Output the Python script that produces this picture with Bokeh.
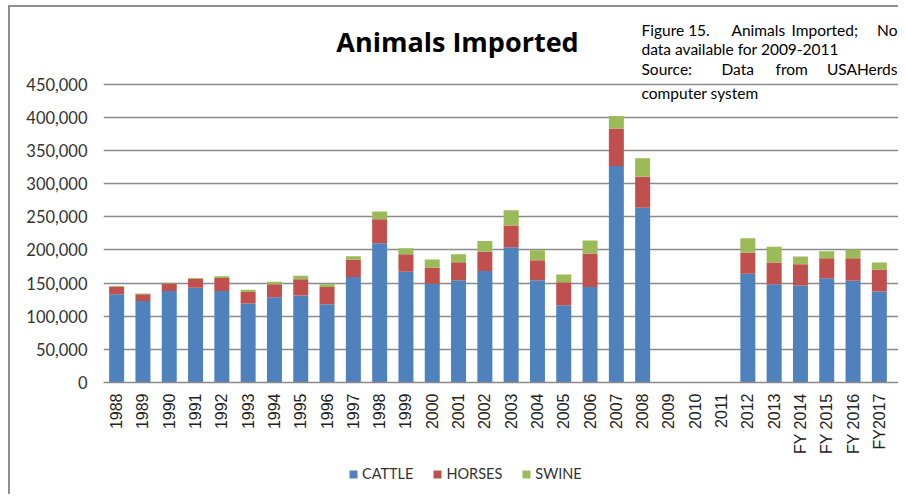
from bokeh.plotting import figure
from bokeh.layouts import column
from bokeh.models import (ColumnDataSource, Range1d, Legend, LegendItem,
                          Label, NumeralTickFormatter, FixedTicker)
from bokeh.embed import file_html
from bokeh.resources import INLINE

years = ["1988", "1989", "1990", "1991", "1992", "1993", "1994", "1995", "1996",
         "1997", "1998", "1999", "2000", "2001", "2002", "2003", "2004", "2005",
         "2006", "2007", "2008", "2009", "2010", "2011", "2012", "2013",
         "FY 2014", "FY 2015", "FY 2016", "FY2017"]
cattle = [133000, 123000, 138000, 143000, 138000, 119000, 128500, 131000, 118000,
          159000, 210000, 167000, 149000, 154000, 168000, 204000, 154000, 116500,
          144000, 326400, 263600, 0, 0, 0, 164000, 148300,
          146300, 157300, 153400, 137300]
horses = [11400, 10000, 11400, 13400, 19400, 17500, 19500, 24700, 26000,
          26100, 36000, 26300, 24400, 27300, 29100, 32600, 30200, 34500,
          50400, 56400, 46400, 0, 0, 0, 31500, 32700,
          32100, 30100, 34000, 33100]
swine = [1000, 1000, 800, 1000, 2700, 3500, 4000, 5300, 4000,
         5200, 11700, 9000, 12000, 12000, 16200, 23100, 15100, 12000,
         19600, 19000, 28000, 0, 0, 0, 22000, 23500,
         11600, 10600, 13100, 10600]
series = ["CATTLE", "HORSES", "SWINE"]
colors = ["#4F81BD", "#C0504D", "#9BBB59"]
y_ticks = list(range(0, 450001, 50000))

title_text = "Animals Imported"
note_lines = [["Figure 15.", "Animals", "Imported;", "No"],
              ["data available for 2009-2011"],
              ["Source:", "Data", "from", "USAHerds"],
              ["computer system"]]

pos = list(range(len(years)))
src = ColumnDataSource(dict(x=pos, CATTLE=cattle, HORSES=horses, SWINE=swine))

W = 898
H_MAIN = 460
FRAME_L, FRAME_B = 103, 382
p = figure(width=W, height=H_MAIN, x_range=Range1d(-0.5, len(years) - 0.5 + 0.228),
           y_range=Range1d(0, 575900), output_backend="svg", toolbar_location=None,
           min_border_left=FRAME_L, min_border_right=0, min_border_top=0,
           min_border_bottom=H_MAIN - FRAME_B)
p.outline_line_color = None
p.background_fill_color = None
p.border_fill_color = None

rs = p.vbar_stack(series, x="x", width=0.57, color=colors, line_color=None, source=src)

# axes
p.yaxis.ticker = FixedTicker(ticks=y_ticks)
p.yaxis.formatter = NumeralTickFormatter(format="0,0")
p.yaxis.axis_line_color = None
p.yaxis.major_tick_line_color = None
p.yaxis.major_tick_out = 0
p.yaxis.minor_tick_line_color = None
p.yaxis.major_label_text_font = "Lato"
p.yaxis.major_label_text_font_size = "16.5px"
p.yaxis.major_label_text_color = "#333333"
p.yaxis.major_label_standoff = 16

p.xaxis.ticker = FixedTicker(ticks=pos)
p.xaxis.major_label_overrides = {i: y for i, y in zip(pos, years)}
p.xaxis.axis_line_color = "#8a8a8a"
p.xaxis.axis_line_width = 1.5
p.xaxis.major_tick_line_color = None
p.xaxis.major_tick_out = 0
p.xaxis.minor_tick_line_color = None
p.xaxis.major_label_orientation = 3.14159265 / 2
p.xaxis.major_label_text_font = "Liberation Sans"
p.xaxis.major_label_text_font_size = "16px"
p.xaxis.major_label_text_color = "#222222"
p.xaxis.major_label_standoff = 11

p.xgrid.grid_line_color = None
p.ygrid.grid_line_color = "#8a8a8a"
p.ygrid.grid_line_width = 1.5
p.ygrid.ticker = FixedTicker(ticks=y_ticks)


def fx(X):
    return X - FRAME_L


def fy(Y):
    return FRAME_B - Y


# title (inside the tall frame, above the data)
p.add_layout(Label(x=fx(457), y=fy(41), x_units="screen", y_units="screen", text=title_text,
                   text_font="Open Sans", text_font_style="bold", text_font_size="27px",
                   text_align="center", text_baseline="middle", text_color="#000000"))

# note text box (justified lines)
FS = "15.5px"
line_Y = [29, 48.5, 68, 92]
word_X = [[641, 731, 791, 897], [641], [641, 721, 775, 897], [641]]
for words, xs, Y in zip(note_lines, word_X, line_Y):
    n = len(words)
    for i, (w, X) in enumerate(zip(words, xs)):
        al = "right" if (n > 1 and i == n - 1) else "left"
        p.add_layout(Label(x=fx(X), y=fy(Y), x_units="screen", y_units="screen", text=w,
                           text_font="Lato", text_font_size=FS, text_align=al,
                           text_baseline="middle", text_color="#000000"))

# legend strip below the chart (frame aligned with the main plot by the column layout)
LH = 494 - H_MAIN
pl = figure(width=W, height=LH, x_range=Range1d(0, 1), y_range=Range1d(0, 1),
            output_backend="svg", toolbar_location=None, min_border=0)
pl.outline_line_color = None
pl.background_fill_color = None
pl.border_fill_color = None
pl.axis.visible = False
pl.grid.visible = False
legend_rs = [pl.vbar(x=[0], top=[0], width=0, color=c, line_color=None) for c in colors]
legend = Legend(items=[LegendItem(label=s, renderers=[r]) for s, r in zip(series, legend_rs)],
                orientation="horizontal", location=(348 - FRAME_L, 12),
                glyph_width=10, glyph_height=10, label_standoff=4, spacing=19,
                padding=0, margin=0, border_line_color=None, background_fill_alpha=0,
                label_text_font="Lato", label_text_font_size="14.5px",
                label_text_color="#333333")
pl.add_layout(legend, "center")

layout = column(p, pl, spacing=0)
# chart-area frame lines (left and top edge of the Excel chart box), drawn behind the canvases
layout.styles = {
    "background": ("linear-gradient(#8f8f8f, #8f8f8f) 8px 5px / 2px calc(100% - 5px) no-repeat, "
                   "linear-gradient(#8f8f8f, #8f8f8f) 8px 5px / calc(100% - 8px) 2px no-repeat, "
                   "#ffffff"),
}
open("out.html", "w").write(file_html(layout, INLINE))
